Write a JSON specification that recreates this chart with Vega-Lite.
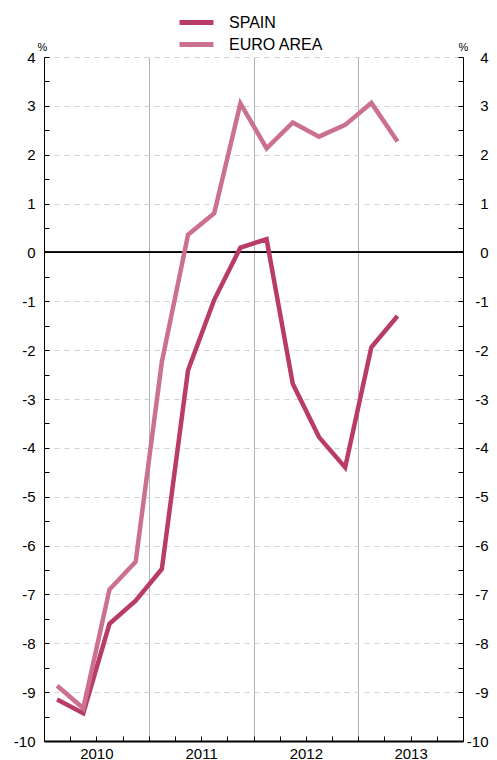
{
  "$schema": "https://vega.github.io/schema/vega-lite/v6.json",
  "autosize": "none",
  "width": 419,
  "height": 684,
  "padding": {"left": 44, "top": 57, "right": 34, "bottom": 19},
  "background": "white",
  "config": {
    "view": {"stroke": null},
    "font": "Liberation Sans",
    "axis": {"labelFont": "Liberation Sans", "titleFont": "Liberation Sans", "labelColor": "black", "titleColor": "black"},
    "legend": {"labelFont": "Liberation Sans"}
  },
  "data": {
    "values": [
      {"t": 0.5, "series": "SPAIN", "value": -9.15},
      {"t": 1.5, "series": "SPAIN", "value": -9.43},
      {"t": 2.5, "series": "SPAIN", "value": -7.6},
      {"t": 3.5, "series": "SPAIN", "value": -7.13},
      {"t": 4.5, "series": "SPAIN", "value": -6.48},
      {"t": 5.5, "series": "SPAIN", "value": -2.41},
      {"t": 6.5, "series": "SPAIN", "value": -0.97},
      {"t": 7.5, "series": "SPAIN", "value": 0.1},
      {"t": 8.5, "series": "SPAIN", "value": 0.27},
      {"t": 9.5, "series": "SPAIN", "value": -2.69},
      {"t": 10.5, "series": "SPAIN", "value": -3.78},
      {"t": 11.5, "series": "SPAIN", "value": -4.4},
      {"t": 12.5, "series": "SPAIN", "value": -1.94},
      {"t": 13.5, "series": "SPAIN", "value": -1.3},
      {"t": 0.5, "series": "EURO AREA", "value": -8.87},
      {"t": 1.5, "series": "EURO AREA", "value": -9.33},
      {"t": 2.5, "series": "EURO AREA", "value": -6.9},
      {"t": 3.5, "series": "EURO AREA", "value": -6.33},
      {"t": 4.5, "series": "EURO AREA", "value": -2.24},
      {"t": 5.5, "series": "EURO AREA", "value": 0.36},
      {"t": 6.5, "series": "EURO AREA", "value": 0.8},
      {"t": 7.5, "series": "EURO AREA", "value": 3.05},
      {"t": 8.5, "series": "EURO AREA", "value": 2.13},
      {"t": 9.5, "series": "EURO AREA", "value": 2.66},
      {"t": 10.5, "series": "EURO AREA", "value": 2.37},
      {"t": 11.5, "series": "EURO AREA", "value": 2.61},
      {"t": 12.5, "series": "EURO AREA", "value": 3.06},
      {"t": 13.5, "series": "EURO AREA", "value": 2.27}
    ]
  },
  "layer": [
    {
      "mark": {"type": "rule", "color": "black", "strokeWidth": 1},
      "encoding": {
        "y": {
          "datum": 0,
          "type": "quantitative",
          "scale": {"domain": [-10, 4], "nice": false, "zero": false},
          "axis": {
            "orient": "right",
            "values": [-10, -9.5, -9, -8.5, -8, -7.5, -7, -6.5, -6, -5.5, -5, -4.5, -4, -3.5, -3, -2.5, -2, -1.5, -1, -0.5, 0, 0.5, 1, 1.5, 2, 2.5, 3, 3.5, 4],
            "labelExpr": "datum.value % 1 === 0 ? '' + datum.value : ''",
            "grid": false,
            "domainColor": "black",
            "domainWidth": 1,
            "tickColor": "black",
            "tickSize": -5,
            "labelAlign": "right",
            "labelPadding": 30,
            "labelFontSize": 15,
            "title": "%",
            "titleAngle": 0,
            "titleFontSize": 11,
            "titleFontWeight": "normal",
            "titleX": 0,
            "titleY": -7,
            "titleAlign": "center",
            "titleBaseline": "alphabetic"
          }
        }
      }
    },
    {
      "mark": {"type": "line", "strokeWidth": 4.5, "strokeJoin": "miter"},
      "encoding": {
        "x": {
          "field": "t",
          "type": "quantitative",
          "scale": {"domain": [0, 16], "nice": false, "zero": false},
          "axis": {
            "values": [0, 1, 2, 3, 4, 5, 6, 7, 8, 9, 10, 11, 12, 13, 14, 15, 16],
            "labelExpr": "datum.value == 2 ? '2010' : datum.value == 6 ? '2011' : datum.value == 10 ? '2012' : datum.value == 14 ? '2013' : ''",
            "title": null,
            "grid": true,
            "gridColor": "#b3b3b3",
            "gridWidth": 1,
            "gridOpacity": {"condition": {"test": "datum.value == 4 || datum.value == 8 || datum.value == 12", "value": 1}, "value": 0},
            "domainColor": "black",
            "domainWidth": 2,
            "tickColor": "black",
            "tickSize": -5,
            "labelPadding": 10,
            "labelFontSize": 15,
            "labelFlush": false
          }
        },
        "y": {
          "field": "value",
          "type": "quantitative",
          "scale": {"domain": [-10, 4], "nice": false, "zero": false},
          "axis": {
            "orient": "left",
            "values": [-10, -9.5, -9, -8.5, -8, -7.5, -7, -6.5, -6, -5.5, -5, -4.5, -4, -3.5, -3, -2.5, -2, -1.5, -1, -0.5, 0, 0.5, 1, 1.5, 2, 2.5, 3, 3.5, 4],
            "labelExpr": "datum.value % 1 === 0 ? '' + datum.value : ''",
            "grid": true,
            "gridColor": "#cfcfcf",
            "gridDash": [5, 5],
            "gridOpacity": {"condition": {"test": "datum.value % 1 === 0 && datum.value != 0 && datum.value != -10", "value": 1}, "value": 0},
            "domainColor": "black",
            "domainWidth": 1,
            "tickColor": "black",
            "tickSize": -5,
            "labelPadding": 14,
            "labelFontSize": 15,
            "title": "%",
            "titleAngle": 0,
            "titleFontSize": 11,
            "titleFontWeight": "normal",
            "titleX": -2,
            "titleY": -7,
            "titleAlign": "center",
            "titleBaseline": "alphabetic"
          }
        },
        "color": {
          "field": "series",
          "type": "nominal",
          "scale": {"domain": ["SPAIN", "EURO AREA"], "range": ["#b83c64", "#cc7090"]},
          "legend": {
            "title": null,
            "orient": "none",
            "legendX": 141.5,
            "legendY": -45.5,
            "direction": "vertical",
            "symbolType": "M-2,0H2",
            "symbolStrokeWidth": 5,
            "symbolSize": 289,
            "labelFontSize": 16,
            "labelColor": "black",
            "labelOffset": 21.5,
            "rowPadding": 1,
            "padding": 0
          }
        }
      }
    }
  ],
  "resolve": {"axis": {"y": "independent"}}
}
